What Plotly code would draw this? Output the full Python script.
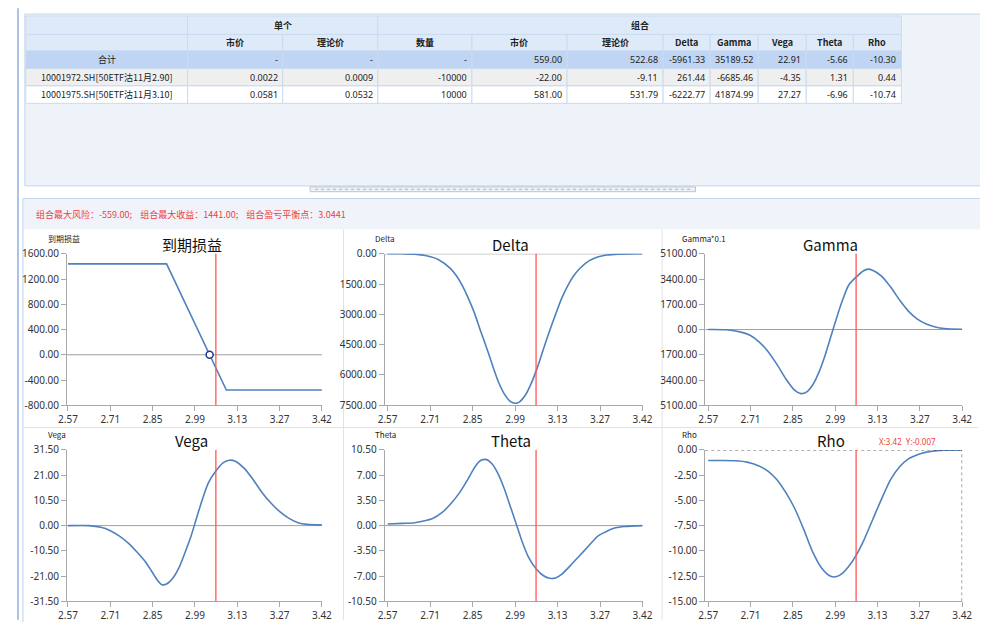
import plotly.graph_objects as go
import numpy as np

# Page geometry: the figure sits inside the default 8px body margin
SCREEN_W, SCREEN_H = 988, 630
OX, OY = 8, 8
FW, FH = SCREEN_W - 2 * OX, SCREEN_H - 2 * OY

# ---------------- table data ----------------
group_headers = ["单个", "组合"]
col_headers = ["", "市价", "理论价", "数量", "市价", "理论价", "Delta", "Gamma", "Vega", "Theta", "Rho"]
row_names = ["合计", "10001972.SH[50ETF沽11月2.90]", "10001975.SH[50ETF沽11月3.10]"]
single_price = ["-", "0.0022", "0.0581"]
single_theo = ["-", "0.0009", "0.0532"]
quantity = ["-", "-10000", "10000"]
combo_price = [559.00, -22.00, 581.00]
combo_theo = [522.68, -9.11, 531.79]
combo_delta = [-5961.33, 261.44, -6222.77]
combo_gamma = [35189.52, -6685.46, 41874.99]
combo_vega = [22.91, -4.35, 27.27]
combo_theta = [-5.66, 1.31, -6.96]
combo_rho = [-10.30, 0.44, -10.74]

max_risk = -559.00
max_profit = 1441.00
breakeven = 3.0441
spot = 3.065

# ---------------- chart data ----------------
x_tick_labels = ["2.57", "2.71", "2.85", "2.99", "3.13", "3.27", "3.42"]

payoff_x = [2.57, 2.90, 3.10, 3.42]
payoff_y = [1441, 1441, -559, -559]

delta_x = [2.57, 2.62, 2.66, 2.70, 2.74, 2.78, 2.80, 2.82, 2.84, 2.86, 2.88, 2.90, 2.92, 2.94, 2.96, 2.98,
           2.995, 3.01, 3.03, 3.05, 3.07, 3.09, 3.11, 3.13, 3.15, 3.17, 3.19, 3.21, 3.24, 3.27, 3.30,
           3.34, 3.38, 3.42]
delta_y = [0, 0, -15, -100, -290, -730, -1100, -1600, -2230, -2950, -3820, -4650, -5530, -6360, -6960, -7320,
           -7400, -7330, -6980, -6380, -5600, -4700, -3820, -3000, -2220, -1600, -1100, -740, -360, -160, -60,
           -15, -3, 0]

gamma_x = [2.57, 2.63, 2.68, 2.71, 2.74, 2.77, 2.80, 2.83, 2.86, 2.88, 2.90, 2.92, 2.94, 2.96, 2.98,
           3.00, 3.02, 3.04, 3.065, 3.09, 3.105, 3.12, 3.15, 3.18, 3.21, 3.24, 3.27, 3.30, 3.33, 3.36, 3.42]
gamma_y = [0, -20, -175, -390, -830, -1480, -2350, -3330, -4100, -4315, -4200, -3720, -2900, -1810, -500,
           800, 2000, 2980, 3530, 3960, 4070, 3990, 3600, 2880, 2000, 1240, 700, 370, 175, 65, 20]

vega_x = [2.57, 2.64, 2.68, 2.71, 2.74, 2.77, 2.80, 2.83, 2.85, 2.87, 2.885, 2.90, 2.92, 2.94, 2.96, 2.98,
          3.00, 3.02, 3.04, 3.065, 3.09, 3.11, 3.13, 3.16, 3.19, 3.22, 3.25, 3.28, 3.31, 3.34, 3.37, 3.42]
vega_y = [0, 0, -0.7, -2.0, -4.2, -7.1, -10.9, -15.2, -19.0, -22.8, -24.6, -24.3, -22.0, -17.9, -11.8, -5.1,
          3.0, 11.0, 17.8, 22.7, 26.2, 27.2, 26.8, 23.8, 19.1, 13.7, 9.3, 5.7, 3.0, 1.2, 0.5, 0.3]

theta_x = [2.57, 2.62, 2.66, 2.69, 2.72, 2.75, 2.78, 2.81, 2.84, 2.86, 2.88, 2.90, 2.92, 2.94, 2.96, 2.98,
           3.00, 3.02, 3.04, 3.065, 3.09, 3.11, 3.13, 3.15, 3.18, 3.21, 3.24, 3.27, 3.30, 3.33, 3.36, 3.42]
theta_y = [0.22, 0.31, 0.40, 0.63, 0.99, 1.75, 3.0, 4.58, 6.6, 8.07, 9.02, 9.15, 8.48, 7.04, 5.02, 2.56,
           0.09, -2.38, -4.40, -5.97, -6.95, -7.31, -7.27, -6.77, -5.52, -4.17, -2.83, -1.48, -0.81, -0.31, -0.13, 0]

rho_x = [2.57, 2.62, 2.66, 2.70, 2.74, 2.77, 2.80, 2.83, 2.86, 2.89, 2.92, 2.95, 2.98, 3.00, 3.02, 3.04,
         3.065, 3.09, 3.12, 3.15, 3.18, 3.21, 3.24, 3.27, 3.30, 3.33, 3.36, 3.42]
rho_y = [-1.05, -1.05, -1.08, -1.21, -1.59, -2.10, -2.96, -4.24, -5.83, -7.90, -10.13, -11.72, -12.52, -12.55,
         -12.20, -11.56, -10.45, -9.01, -6.94, -4.87, -2.96, -1.69, -0.89, -0.48, -0.22, -0.10, -0.03, -0.007]

payoff_ticks = [1600, 1200, 800, 400, 0, -400, -800]
payoff_labels = ["1600.00", "1200.00", "800.00", "400.00", "0.00", "-400.00", "-800.00"]
delta_ticks = [0, -1500, -3000, -4500, -6000, -7500]
delta_labels = ["0.00", "1500.00", "3000.00", "4500.00", "6000.00", "7500.00"]
gamma_ticks = [5100, 3400, 1700, 0, -1700, -3400, -5100]
gamma_labels = ["5100.00", "3400.00", "1700.00", "0.00", "1700.00", "3400.00", "5100.00"]
vega_ticks = [31.5, 21, 10.5, 0, -10.5, -21, -31.5]
vega_labels = ["31.50", "21.00", "10.50", "0.00", "-10.50", "-21.00", "-31.50"]
theta_ticks = [10.5, 7, 3.5, 0, -3.5, -7, -10.5]
theta_labels = ["10.50", "7.00", "3.50", "0.00", "-3.50", "-7.00", "-10.50"]
rho_ticks = [0, -2.5, -5, -7.5, -10, -12.5, -15]
rho_labels = ["0.00", "-2.50", "-5.00", "-7.50", "-10.00", "-12.50", "-15.00"]

FONT = "Noto Sans, Noto Sans CJK SC, sans-serif"
CJK = "Noto Sans CJK SC, Noto Sans, sans-serif"
LINE_C = "#4f81bd"
AX_C = "#a9a9a9"


def px(x):
    return (x - OX) / FW


def py(y):
    return 1 - (y - OY) / FH


fig = go.Figure()
shapes = []
annotations = []


def rect(x0, y0, x1, y1, fill, line=None, lw=1):
    shapes.append(dict(type="rect", xref="paper", yref="paper", x0=px(x0), x1=px(x1), y0=py(y1), y1=py(y0),
                       fillcolor=fill, line=dict(color=line or fill, width=lw if line else 0), layer="below"))


def hline(x0, x1, y, color, w=1, dash="solid"):
    shapes.append(dict(type="line", xref="paper", yref="paper", x0=px(x0), x1=px(x1), y0=py(y), y1=py(y),
                       line=dict(color=color, width=w, dash=dash), layer="below"))


def vline(x, y0, y1, color, w=1):
    shapes.append(dict(type="line", xref="paper", yref="paper", x0=px(x), x1=px(x), y0=py(y0), y1=py(y1),
                       line=dict(color=color, width=w), layer="below"))


def text(x, y, s, size=9, color="#222", anchor="center", family=FONT):
    annotations.append(dict(x=px(x), y=py(y), xref="paper", yref="paper", text=s, showarrow=False,
                            xanchor=anchor, yanchor="middle", font=dict(size=size, color=color, family=family)))


# ---------------- background panels ----------------
rect(OX, 0, SCREEN_W, SCREEN_H, "#ffffff")
rect(OX, 0, OX + 2, SCREEN_H, "#a9c2e6")
rect(16, OY - 2, SCREEN_W + 4, 183, "#eef3f9", "#c6d5ea")
rect(307, 184, 700, 189, "#eef1f6", "#b9c4d6")
hline(312, 695, 186.5, "#9fb8e0", 1, "dot")
rect(14, 196, SCREEN_W + 4, SCREEN_H + 4, "#f0f4fa", "#c6d5ea")
rect(15, 228, SCREEN_W + 4, SCREEN_H + 4, "#ffffff")
vline(341, 228, SCREEN_H, "#e2e2e2")
vline(666, 228, SCREEN_H, "#e2e2e2")
hline(15, SCREEN_W, 432, "#e2e2e2")

# ---------------- table ----------------
col_edges = [17, 182, 279, 376, 472, 569, 667, 715, 764, 813, 861, 910]
row_edges = [8, 27, 44, 62, 80, 98]
grid_c = "#c9dbf1"
hdr_bg = "#dfeaf8"
row_bg = ["#bfd5f3", "#efefef", "#ffffff"]

rect(col_edges[0], row_edges[0], col_edges[1], row_edges[1], hdr_bg, grid_c)
rect(col_edges[1], row_edges[0], col_edges[3], row_edges[1], hdr_bg, grid_c)
rect(col_edges[3], row_edges[0], col_edges[11], row_edges[1], hdr_bg, grid_c)
text((col_edges[1] + col_edges[3]) / 2, (row_edges[0] + row_edges[1]) / 2, "<b>" + group_headers[0] + "</b>", 9, family=CJK)
text((col_edges[3] + col_edges[11]) / 2, (row_edges[0] + row_edges[1]) / 2, "<b>" + group_headers[1] + "</b>", 9, family=CJK)
for i, h in enumerate(col_headers):
    rect(col_edges[i], row_edges[1], col_edges[i + 1], row_edges[2], hdr_bg, grid_c)
    if h:
        text((col_edges[i] + col_edges[i + 1]) / 2, (row_edges[1] + row_edges[2]) / 2, "<b>" + h + "</b>", 9, family=CJK)

cols_data = [single_price, single_theo, quantity,
             ["%.2f" % v for v in combo_price], ["%.2f" % v for v in combo_theo],
             ["%.2f" % v for v in combo_delta], ["%.2f" % v for v in combo_gamma],
             ["%.2f" % v for v in combo_vega], ["%.2f" % v for v in combo_theta],
             ["%.2f" % v for v in combo_rho]]
for r in range(3):
    y0, y1 = row_edges[r + 2], row_edges[r + 3]
    ym = (y0 + y1) / 2
    for c in range(11):
        rect(col_edges[c], y0, col_edges[c + 1], y1, row_bg[r], grid_c)
    text((col_edges[0] + col_edges[1]) / 2, ym, row_names[r], 9, "#222", family=CJK)
    for c, vals in enumerate(cols_data):
        text(col_edges[c + 2] - 3, ym, vals[r], 9, "#222", anchor="right")

text(25, 213, "组合最大风险：%.2f;    组合最大收益：%.2f;    组合盈亏平衡点：%.4f" % (max_risk, max_profit, breakeven),
     9, "#f03c3c", anchor="left", family=CJK)

# ---------------- charts ----------------
cols_geo = [(59, 60, 319), (383, 386, 646), (710, 713, 972)]
rows_geo = [(253, 409), (455, 611)]
charts = [
    ("到期损益", "到期损益", payoff_x, payoff_y, [-800, 1600], payoff_ticks, payoff_labels, "linear"),
    ("Delta", "Delta", delta_x, delta_y, [-7500, 0], delta_ticks, delta_labels, "spline"),
    ("Gamma*0.1", "Gamma", gamma_x, gamma_y, [-5100, 5100], gamma_ticks, gamma_labels, "spline"),
    ("Vega", "Vega", vega_x, vega_y, [-31.5, 31.5], vega_ticks, vega_labels, "spline"),
    ("Theta", "Theta", theta_x, theta_y, [-10.5, 10.5], theta_ticks, theta_labels, "spline"),
    ("Rho", "Rho", rho_x, rho_y, [-15, 0], rho_ticks, rho_labels, "spline"),
]
xt = list(np.linspace(2.57, 3.42, 7))
layout_axes = {}
for i, (small, title, xs, ys, yr, tv, tt, shp) in enumerate(charts):
    r, c = divmod(i, 3)
    ax_px, first_px, last_px = cols_geo[c]
    top_px, bot_px = rows_geo[r]
    n = "" if i == 0 else str(i + 1)
    x0r = 2.57 - (first_px - ax_px) * 0.85 / (last_px - first_px)
    common = dict(showline=True, linecolor=AX_C, ticks="outside", ticklen=5, tickcolor=AX_C,
                  showgrid=False, zeroline=False, fixedrange=True,
                  tickfont=dict(size=10, color="#333", family=FONT))
    layout_axes["xaxis" + n] = dict(domain=[px(ax_px), px(last_px)], range=[x0r, 3.42], anchor="y" + n,
                                    tickvals=xt, ticktext=x_tick_labels, **common)
    layout_axes["yaxis" + n] = dict(domain=[py(bot_px), py(top_px)], range=yr, anchor="x" + n,
                                    tickvals=tv, ticktext=tt, **common)
    xr, yrf = "x" + n, "y" + n
    if title != "Rho":
        shapes.append(dict(type="line", xref=xr + " domain", yref=yrf, x0=0, x1=1, y0=0, y1=0,
                           line=dict(color="#a0a0a0", width=1), layer="below"))
    else:
        shapes.append(dict(type="line", xref=xr + " domain", yref=yrf, x0=0, x1=1, y0=0, y1=0,
                           line=dict(color="#333", width=1, dash="dot"), layer="above"))
        shapes.append(dict(type="line", xref=xr, yref=yrf + " domain", x0=3.42, x1=3.42, y0=0, y1=1,
                           line=dict(color="#333", width=1, dash="dot"), layer="above"))
    shapes.append(dict(type="line", xref=xr, yref=yrf + " domain", x0=spot, x1=spot, y0=0, y1=1,
                       line=dict(color="#f55", width=1.3), layer="above"))
    fig.add_trace(go.Scatter(x=xs, y=ys, mode="lines", xaxis=xr, yaxis=yrf,
                             line=dict(color=LINE_C, width=1.6, shape=shp, smoothing=0.8),
                             hoverinfo="skip", showlegend=False))
    lab_x = [38, 371, 684][c]
    text(lab_x, top_px - 16, small, 8, "#222", anchor="left", family=CJK)
    tx = (ax_px + last_px) / 2
    text(tx - 3, top_px - 10, title, 15, "#111", family=CJK)
    if title == "Rho":
        text(885, top_px - 9, "X:3.42  Y:-0.007", 8, "#f03c3c", anchor="left")

fig.add_trace(go.Scatter(x=[breakeven], y=[0], mode="markers", xaxis="x", yaxis="y",
                         marker=dict(size=7, color="white", line=dict(color="#1f3a8a", width=1.5)),
                         hoverinfo="skip", showlegend=False))

fig.update_layout(width=FW, height=FH, margin=dict(l=0, r=0, t=0, b=0), paper_bgcolor="white",
                  plot_bgcolor="rgba(0,0,0,0)", shapes=shapes, annotations=annotations, **layout_axes)

fig.write_html("out.html", config={"displayModeBar": False})
